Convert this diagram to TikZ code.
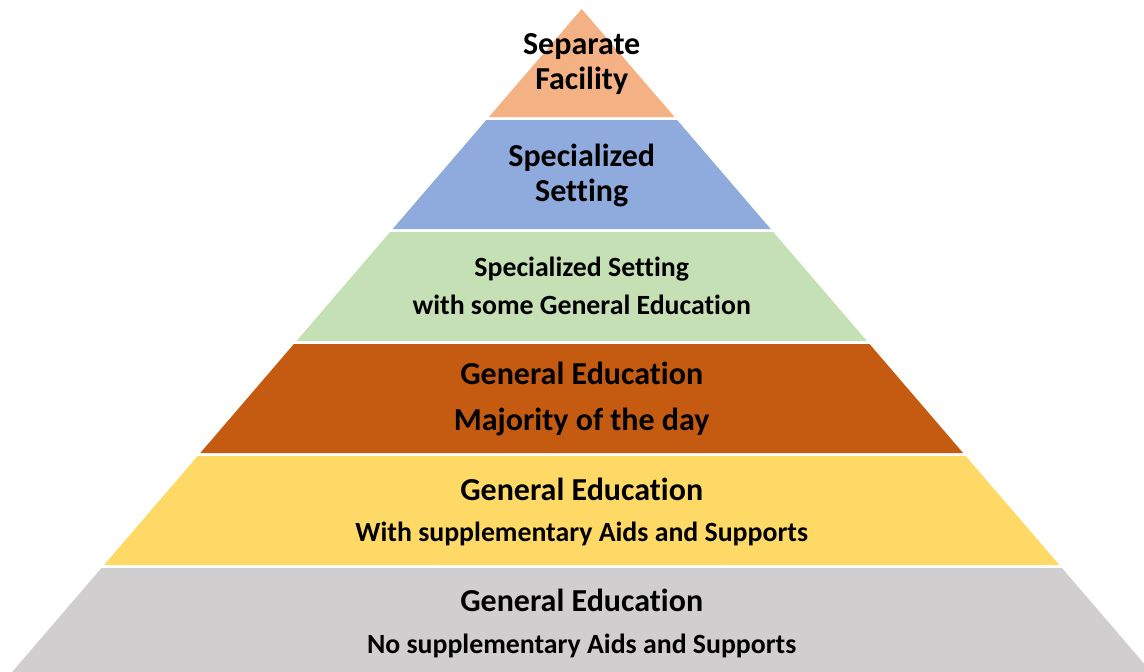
\documentclass[tikz,border=0pt]{standalone}
\usepackage{fontspec}
\setmainfont{Carlito}[RawFeature=-liga]
\definecolor{cTop}{HTML}{F4B183}
\definecolor{cBlue}{HTML}{8FAADC}
\definecolor{cGreen}{HTML}{C5E0B4}
\definecolor{cRust}{HTML}{C55A11}
\definecolor{cGold}{HTML}{FFD966}
\definecolor{cGray}{HTML}{D0CECE}
\tikzset{
  big/.style={font=\fontsize{32}{36}\selectfont\bfseries, text=black, inner sep=0pt, anchor=base},
  small/.style={font=\fontsize{27.8}{32}\selectfont\bfseries, text=black, inner sep=0pt, anchor=base},
}
\begin{document}
\begin{tikzpicture}[x=1pt,y=-1pt]
\useasboundingbox (0,0) rectangle (1144,672);
\begin{scope}
\clip (0,0) rectangle (1144,672);
\fill[cTop]   (581.7,9) -- (674.5,117) -- (488.9,117) -- cycle;
\fill[cBlue]  (486.3,120) -- (677.1,120) -- (770.7,229) -- (392.7,229) -- cycle;
\fill[cGreen] (390.1,232) -- (773.3,232) -- (866.9,341) -- (296.5,341) -- cycle;
\fill[cRust]  (293.9,344) -- (869.5,344) -- (963.1,453) -- (200.3,453) -- cycle;
\fill[cGold]  (197.7,456) -- (965.7,456) -- (1059.4,565) -- (104.0,565) -- cycle;
\fill[cGray]  (101.5,568) -- (1061.9,568) -- (1151.3,672) -- (12.1,672) -- cycle;
\end{scope}
\node[big]   (l1a) at (581.7,54.3)  {Separate};
\node[big]   (l1b) at (581.7,89.3)  {Facility};
\node[big]   (l2a) at (581.7,166.7) {Specialized};
\node[big]   (l2b) at (581.7,201.7) {Setting};
\node[small] (l3a) at (581.7,276.5) {Specialized Setting};
\node[small] (l3b) at (581.7,314)   {with some General Education};
\node[big]   (l4a) at (581.7,384.3) {General Education};
\node[big]   (l4b) at (581.7,430)   {Majority of the day};
\node[big]   (l5a) at (581.7,500)   {General Education};
\node[small] (l5b) at (581.7,541)   {With supplementary Aids and Supports};
\node[big]   (l6a) at (581.7,611.7) {General Education};
\node[small] (l6b) at (581.7,653)   {No supplementary Aids and Supports};
\end{tikzpicture}
\end{document}
